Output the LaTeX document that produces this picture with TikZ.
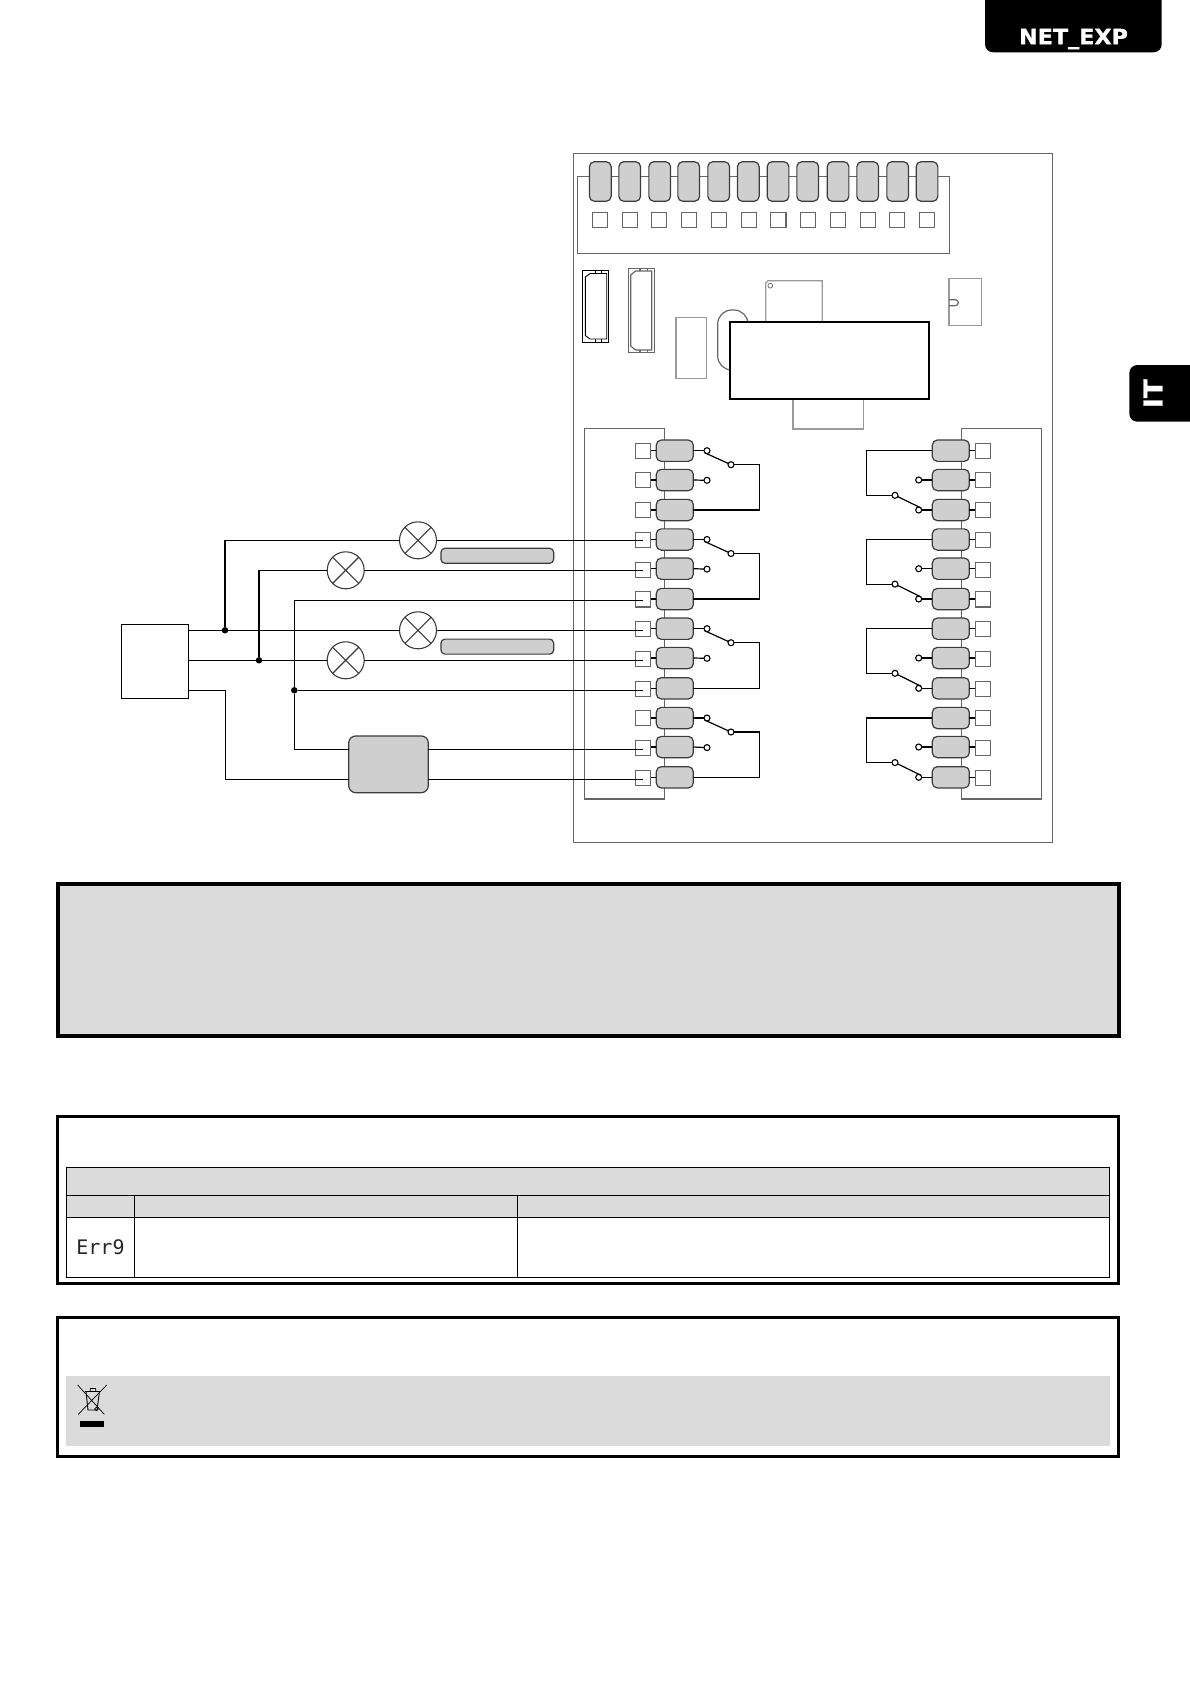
\documentclass[tikz,border=0pt]{standalone}
\usepackage{fontspec}
\usetikzlibrary{positioning}
\newfontfamily\tabfont[FakeStretch=1.06, FakeBold=1.2]{DejaVu Sans}
\newfontfamily\segfont{DejaVu Sans Mono}
\definecolor{padgray}{HTML}{CFCFCF}
\definecolor{padline}{HTML}{3C3C3C}
\definecolor{panelgray}{HTML}{DBDBDB}
\definecolor{boardline}{HTML}{666666}
\definecolor{partline}{HTML}{9A9A9A}
\tikzstyle{pad} = [rectangle, rounded corners=5pt, minimum width=37pt, minimum height=21.3pt, inner sep=0pt, outer sep=0pt, draw=padline, fill=padgray, line width=1.2pt]
\tikzstyle{toppad} = [pad, minimum width=21.7pt, minimum height=39.6pt]
\tikzstyle{termsq} = [rectangle, minimum width=15.3pt, minimum height=15.3pt, inner sep=0pt, outer sep=0pt, draw=boardline, fill=white, line width=1.1pt]
\tikzstyle{contact} = [circle, minimum size=6pt, inner sep=0pt, outer sep=0pt, draw=black, fill=white, line width=1.1pt]
\tikzstyle{lamp} = [circle, minimum size=37pt, inner sep=0pt, outer sep=0pt, draw=padline, fill=white, line width=1.1pt,
  path picture={\draw [padline, line width=1.1pt] (path picture bounding box.north west) -- (path picture bounding box.south east) (path picture bounding box.south west) -- (path picture bounding box.north east);}]
\tikzstyle{junction} = [circle, minimum size=6.5pt, inner sep=0pt, outer sep=0pt, fill=black]
\tikzstyle{labelbar} = [pad, rounded corners=4pt, minimum width=112.7pt, minimum height=15pt]
\tikzstyle{wire} = [black, line width=1.2pt]
\tikzstyle{boardedge} = [boardline, line width=1.2pt]
\tikzstyle{part} = [partline, line width=1.2pt]
\tikzstyle{panel} = [black, line width=3pt]

\begin{document}
\begin{tikzpicture}[x=1pt, y=-1pt]

  \useasboundingbox (0,0) rectangle (1190,1684);

  % tabs at the page edge
  \fill [black, rounded corners=8pt] (985,-12) rectangle (1161.7,52.3);
  \fill [black, rounded corners=8pt] (1129.3,365) rectangle (1210,421.7);
  \node (tabname) [text=white, inner sep=0pt] at (1073.5,39) {\tabfont\bfseries\fontsize{21}{21}\selectfont NET\_EXP};
  \node (tablang) [text=white, inner sep=0pt, rotate=90] at (1153,393.7) {\tabfont\bfseries\fontsize{26}{26}\selectfont IT};

  % board and the parts on it
  \draw [boardedge] (573.3,153.7) rectangle (1052.3,842.3);
  \draw [boardedge] (577.3,176.3) rectangle (949.3,253.3);
  \draw [boardedge] (584.3,428.3) rectangle (664.3,799);
  \draw [boardedge] (961.3,428.3) rectangle (1041.7,799);

  \draw [black, line width=1.1pt] (582.3,270.7) rectangle (608.7,342.3);
  \draw [black, line width=0.9pt] (585.3,277) -- (590,273.5) -- (606.7,273.5) -- (606.7,339) -- (590,339) -- (585.3,335.5) -- cycle;
  \draw [black, line width=0.9pt] (595,270.7) -- (595,273.5) (601.7,270.7) -- (601.7,273.5) (595,339) -- (595,342.3) (601.7,339) -- (601.7,342.3);

  \draw [boardedge] (628.3,268.3) rectangle (654.7,352.3);
  \draw [boardedge] (630.7,275) -- (635.5,271) -- (651.7,271) -- (651.7,350) -- (635.5,350) -- (630.7,346) -- cycle;
  \draw [boardedge] (640,268.3) -- (640,271) (647.7,268.3) -- (647.7,271) (640,350) -- (640,352.3) (647.7,350) -- (647.7,352.3);

  \draw [part] (676,317.3) rectangle (706.7,378.3);
  \draw [boardedge, rounded corners=14pt] (717.7,310) rectangle (748,370);
  \draw [part] (765.7,321) -- (765.7,283) -- (768,280.7) -- (822.3,280.7) -- (822.3,321);
  \draw [boardedge, line width=0.7pt] (770.3,285.7) circle (2.4pt);
  \draw [part] (793,399) -- (793,429) -- (863.3,429) -- (863.3,399);
  \draw [part] (949,278.3) rectangle (981.3,325.7);
  \draw [boardedge, rounded corners=3pt] (949,299.7) -- (958.3,299.7) -- (958.3,305.7) -- (949,305.7);
  \node (display) [rectangle, draw=black, fill=white, line width=2pt, minimum width=198.7pt, minimum height=77.3pt, inner sep=0pt] at (829.3,360.3) {};

  % top row of terminals
  \foreach \i/\xp/\xs in {1/600.3/600, 2/629.7/630, 3/659.7/659, 4/688.7/689, 5/718.7/719, 6/748.3/749, 7/778/778.3, 8/807.7/808, 9/838/838, 10/867.7/868, 11/897.7/897, 12/927/927} {
    \node (pt\i) [toppad] at (\xp,181.5) {};
    \node (st\i) [termsq] at (\xs,220) {};
  }

  % side rows of terminals
  \foreach \i/\yp/\ys in {1/450.7/450.7, 2/480/479.7, 3/510/510, 4/539.5/540, 5/568.7/570, 6/599/599.3, 7/628.7/629, 8/658/659, 9/688.3/689, 10/718/718, 11/747/748, 12/777.3/777.7} {
    \node (pl\i) [pad] at (674.8,\yp) {};
    \node (sl\i) [termsq] at (643,\ys) {};
    \draw [wire, shorten >=0.7pt] (pl\i.west) -- (sl\i.east |- pl\i.west);
    \node (pr\i) [pad] at (950.8,\yp) {};
    \node (sr\i) [termsq] at (983,\ys) {};
    \draw [wire, shorten >=0.7pt] (pr\i.east) -- (sr\i.west |- pr\i.east);
  }

  % relay contacts, left and right
  \foreach \a/\b/\c/\yc in {1/2/3/450.7, 4/5/6/539.5, 7/8/9/628.7, 10/11/12/718} {
    \node (cl\a) [contact] at (707,\yc) {};
    \node (cl\b) [contact, below=23.6pt of cl\a] {};
    \node (coml\a) [contact] at (731,\yc+14) {};
    \draw [wire] (pl\a.east) -- (cl\a);
    \draw [wire] (pl\b.east) -- (cl\b);
    \draw [wire] (cl\a.south west) -- (coml\a);
    \draw [wire] (coml\a) -- ++(28.7,0) |- (pl\c.east);

    \node (cr\b) [contact, left=10.6pt of pr\b] {};
    \node (cr\c) [contact, left=10.6pt of pr\c] {};
    \node (comr\a) [contact] at (895,\yc+44.6) {};
    \draw [wire] (pr\b.west) -- (cr\b);
    \draw [wire] (pr\c.west) -- (cr\c);
    \draw [wire] (comr\a) -- (cr\c.north east);
    \draw [wire] (pr\a.west) -- ++(-66,0) |- (comr\a);
  }

  % supply, lamps and control unit
  \node (supply) [rectangle, draw=black, fill=white, line width=1.2pt, minimum width=67.4pt, minimum height=74pt, inner sep=0pt] at (155,661.3) {};
  \node (lampa) [lamp] at (418,540.3) {};
  \node (lampb) [lamp] at (345.7,570.3) {};
  \node (lampc) [lamp] at (418,630.3) {};
  \node (lampd) [lamp] at (345.7,660.3) {};
  \node (bara) [labelbar] at (497.3,555.8) {};
  \node (barb) [labelbar] at (497.3,646.6) {};
  \node (ctrl) [pad, rounded corners=7pt, minimum width=79.6pt, minimum height=56.7pt] at (388.5,764.3) {};

  \node (dota) [junction] at (225,630.3) {};
  \node (dotb) [junction] at (259,660.3) {};
  \node (dotc) [junction] at (294.3,690.3) {};

  \coordinate (w4) at (642.7,540.3);
  \coordinate (w5) at (642.7,570.3);
  \coordinate (w6) at (642.7,600.3);
  \coordinate (w7) at (642.7,630.3);
  \coordinate (w8) at (642.7,660.3);
  \coordinate (w9) at (642.7,690.3);
  \coordinate (w11) at (642.7,749.3);
  \coordinate (w12) at (642.7,779.3);

  % draw connections between nodes
  \draw [wire] (supply.east |- dota) -- (dota) -- (lampc.west);
  \draw [wire] (supply.east |- dotb) -- (dotb) -- (lampd.west);
  \draw [wire] (dota) |- (lampa.west);
  \draw [wire] (dotb) |- (lampb.west);
  \draw [wire] (lampa.east) -- (w4);
  \draw [wire] (lampb.east) -- (w5);
  \draw [wire] (lampc.east) -- (w7);
  \draw [wire] (lampd.east) -- (w8);
  \draw [wire] (w6) -| (dotc) |- (ctrl.west |- w11);
  \draw [wire] (dotc) -- (w9);
  \draw [wire] (supply.east |- dotc) -- ++(36.3,0) |- (ctrl.west |- w12);
  \draw [wire] (ctrl.east |- w11) -- (w11);
  \draw [wire] (ctrl.east |- w12) -- (w12);

  % note panel
  \draw [black, line width=4pt, fill=panelgray] (58,884) rectangle (1119,1036);

  % error table
  \draw [panel] (57.3,1116.5) rectangle (1118.5,1283.3);
  \draw [black, line width=1.1pt, fill=panelgray] (66.3,1167.3) rectangle (1109.3,1217.3);
  \draw [black, line width=1.1pt] (66.3,1217.3) rectangle (1109.3,1277.3);
  \draw [black, line width=1.1pt] (66.3,1195.3) -- (1109.3,1195.3);
  \draw [black, line width=1.1pt] (134.7,1195.3) -- (134.7,1277.3);
  \draw [black, line width=1.1pt] (517.7,1195.3) -- (517.7,1277.3);
  \node (errcode) [inner sep=0pt, text=black!85] at (100.5,1247.3) {\segfont\fontsize{20}{20}\selectfont Err9};

  % disposal panel
  \draw [panel] (57.3,1317.3) rectangle (1118.5,1456.3);
  \fill [panelgray] (66,1375.7) rectangle (1110,1445.7);
  \draw [black, line width=0.7pt] (77.7,1385) -- (104.3,1414.3) (106.7,1385) -- (78.3,1414.3);
  \draw [black, line width=0.9pt] (85,1391.5) -- (100.5,1391.5) (86,1391.5) -- (88,1410) -- (97,1410) -- (99.5,1391.5);
  \draw [black, line width=0.7pt] (90,1391.5) -- (90.5,1388.5) -- (95.5,1388.5) -- (96,1391.5);
  \draw [black, line width=0.7pt] (96.5,1409) circle (1.8pt);
  \fill [black] (80.3,1420.7) rectangle (103.7,1426.7);

\end{tikzpicture}
\end{document}
